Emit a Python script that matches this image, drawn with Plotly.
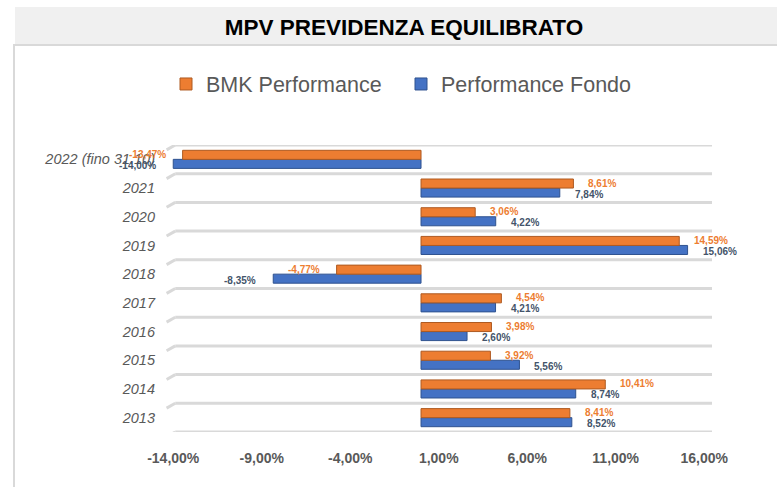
import plotly.graph_objects as go

# ---- data ----
categories = ["2013", "2014", "2015", "2016", "2017", "2018", "2019", "2020", "2021", "2022 (fino 31.10)"]
bmk_performance = [8.41, 10.41, 3.92, 3.98, 4.54, -4.77, 14.59, 3.06, 8.61, -13.47]
performance_fondo = [8.52, 8.74, 5.56, 2.60, 4.21, -8.35, 15.06, 4.22, 7.84, -14.00]
x_tick_values = [-14, -9, -4, 1, 6, 11, 16]

ORANGE = "#ED7D31"
BLUE = "#4472C4"
GRAY_TXT = "#595959"
FONT = "Liberation Sans, Arial, sans-serif"

W, H = 777, 487
L, R, T, B = 172, 65, 145, 55
PW, PH = W - L - R, H - T - B


def px_x(px):
    return (px - L) / PW


def px_y(py):
    return (H - B - py) / PH


def fmt(v):
    return f"{v:.2f}".replace(".", ",") + "%"


fig = go.Figure()
fig.add_trace(go.Bar(
    name="Performance Fondo", y=categories, x=performance_fondo, orientation="h",
    marker=dict(color=BLUE, line=dict(color="#2F528F", width=1)),
))
fig.add_trace(go.Bar(
    name="BMK Performance", y=categories, x=bmk_performance, orientation="h",
    marker=dict(color=ORANGE, line=dict(color="#AE5A21", width=1)),
))

annotations = []
for idx, v in enumerate(bmk_performance):
    annotations.append(dict(
        x=v, y=idx, xref="x", yref="y", text=fmt(v), showarrow=False,
        xanchor="left" if v >= 0 else "right", xshift=13 if v >= 0 else -15, yshift=5,
        font=dict(family=FONT, size=10, color=ORANGE, weight="bold"),
    ))
for idx, v in enumerate(performance_fondo):
    annotations.append(dict(
        x=v, y=idx, xref="x", yref="y", text=fmt(v), showarrow=False,
        xanchor="left" if v >= 0 else "right", xshift=13 if v >= 0 else -15, yshift=-6,
        font=dict(family=FONT, size=10, color="#44546A", weight="bold"),
    ))

shapes = []
# title band
shapes.append(dict(type="rect", xref="paper", yref="paper", x0=px_x(15), x1=px_x(778),
                   y0=px_y(44), y1=px_y(7), fillcolor="#F0F0F0", line=dict(width=0), layer="below"))
# frame lines
shapes.append(dict(type="line", xref="paper", yref="paper", x0=px_x(13), x1=px_x(778),
                   y0=px_y(45), y1=px_y(45), line=dict(color="#D9D9D9", width=2), layer="below"))
shapes.append(dict(type="line", xref="paper", yref="paper", x0=px_x(14), x1=px_x(14),
                   y0=px_y(45), y1=px_y(488), line=dict(color="#D9D9D9", width=2), layer="below"))
# 3D floor gridlines between categories
for i in range(len(categories) + 1):
    b = i - 0.5
    shapes.append(dict(type="line", xref="x domain", yref="y", x0=0.006, x1=1.0, y0=b, y1=b,
                       line=dict(color="#D9D9D9", width=3), layer="below"))
    shapes.append(dict(type="line", xref="x domain", yref="y", x0=-0.01, x1=0.006,
                       y0=b - 0.17, y1=b, line=dict(color="#D9D9D9", width=3), layer="below"))

fig.update_layout(
    width=W, height=H,
    margin=dict(l=L, r=R, t=T, b=B),
    paper_bgcolor="white", plot_bgcolor="white",
    barmode="group", bargap=0.37, bargroupgap=0,
    font=dict(family=FONT, color=GRAY_TXT),
    title=dict(text="MPV PREVIDENZA EQUILIBRATO", x=404 / W, xanchor="center",
               y=1 - 27 / H, yanchor="middle",
               font=dict(family=FONT, size=22.5, color="#000000", weight="bold")),
    legend=dict(orientation="h", traceorder="reversed", x=px_x(166), xanchor="left",
                y=px_y(84), yanchor="middle", entrywidth=190,
                font=dict(family=FONT, size=21.5, color=GRAY_TXT),
                bgcolor="rgba(0,0,0,0)"),
    xaxis=dict(range=[-14.07, 16.44], tickvals=x_tick_values,
               ticktext=[fmt(v) for v in x_tick_values],
               showgrid=False, zeroline=False, showline=False, ticks="",
               ticklabelstandoff=16,
               tickfont=dict(family=FONT, size=14, color=GRAY_TXT, weight="bold")),
    yaxis=dict(type="category", range=[-0.5, len(categories) - 0.5], showgrid=False,
               zeroline=False, showline=False, ticks="", ticklabelstandoff=16,
               tickfont=dict(family=FONT, size=14.5, color=GRAY_TXT, style="italic")),
    annotations=annotations,
    shapes=shapes,
    showlegend=True,
)

fig.write_html("out.html", config={"displayModeBar": False},
               post_script="document.body.style.margin='0px';")
